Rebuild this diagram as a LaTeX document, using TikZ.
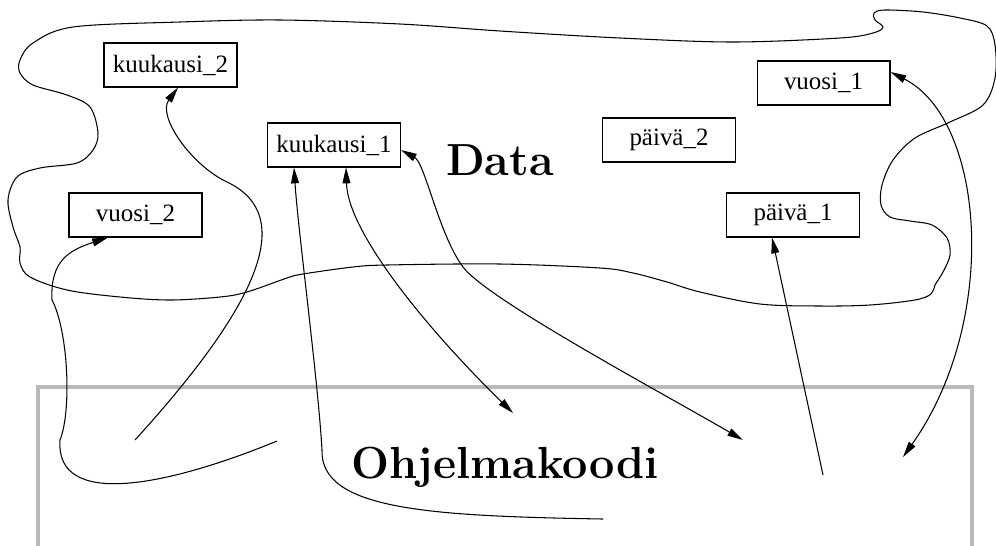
\documentclass[tikz,border=0pt]{standalone}
\usepackage{fontspec}
\usetikzlibrary{arrows.meta}
\newfontfamily\labelfont{Liberation Serif}

\begin{document}
\begin{tikzpicture}[x=0.02cm, y=-0.02cm,
    box/.style = {rectangle,
        draw,
        line width = 0.6pt,
        minimum width = 2.66cm,
        minimum height = 0.88cm,
        inner sep = 0pt,
        font = \labelfont\fontsize{14.2}{16}\selectfont},
    heading/.style = {anchor = base,
        font = \fontsize{25.6}{30}\selectfont\bfseries},
    oneway/.style = {line width = 0.6pt,
        -{Triangle[length = 9pt, width = 4.5pt]}},
    twoway/.style = {line width = 0.6pt,
        {Triangle[length = 9pt, width = 4.5pt]}-{Triangle[length = 9pt, width = 4.5pt]}}]

    \useasboundingbox (0,0) rectangle (996,545);

    % program code area
    \node[rectangle,
        draw = black!27,
        line width = 2pt,
        minimum width = 18.68cm,
        minimum height = 3.24cm] (Koodi) at (505,468) {};
    \node[heading] (Ohjelma) at (505,478) {Ohjelmakoodi};

    % data area
    \draw[line width = 0.6pt] plot[smooth cycle, tension = 0.55] coordinates {
        (73,27) (180,22) (280,20) (400,24) (500,31) (620,38) (733,42)
        (840,38) (873,33) (883,27) (875,20) (874,13) (885,10) (923,12)
        (960,18) (987,26) (995,45) (995,78) (983,105) (950,122) (915,138)
        (893,160) (882,185) (881,205) (890,217) (910,221) (932,225)
        (947,238) (950,255) (943,272) (935,285) (931,294) (915,300)
        (870,305) (820,306) (760,304) (700,292) (667,282) (633,273)
        (600,268) (500,264) (387,265) (353,267) (303,274) (287,278)
        (247,292) (220,297) (170,300) (120,297) (67,290) (30,277)
        (20,263) (20,247) (13,227) (8,200) (17,177) (40,168) (77,163)
        (93,150) (98,133) (90,107) (67,95) (33,85) (20,73) (20,60) (33,43)};
    \node[heading] (Data) at (500,175) {Data};

    \node[box] (kuukausi2) at (170.5,65) {kuukausi\_2};
    \node[box] (kuukausi1) at (334,145) {kuukausi\_1};
    \node[box] (vuosi2) at (135.5,215) {vuosi\_2};
    \node[box] (vuosi1) at (823.5,83) {vuosi\_1};
    \node[box] (paiva2) at (669,140) {päivä\_2};
    \node[box] (paiva1) at (793,215) {päivä\_1};

    % loose ends inside the code
    \coordinate (k2alku) at (135,440);
    \coordinate (v2alku) at (277,441);
    \coordinate (k1alku) at (603,519);
    \coordinate (k1loppu) at (513,413);
    \coordinate (k1oikea) at (743,440);
    \coordinate (p1alku) at (823,475);
    \coordinate (v1loppu) at (903,457);

    \draw[oneway] (k2alku) .. controls (256,307) and (299,216) .. (227,182)
        .. controls (191,165) and (157,116) .. ([xshift=0.15cm]kuukausi2.south);
    \draw[oneway] (v2alku) .. controls (170,485) and (55,510) .. (60,440)
        .. controls (72,410) and (68,330) .. (52,300)
        .. controls (50,260) and (70,250) .. ([xshift=-0.55cm]vuosi2.south);
    \draw[oneway] (k1alku) .. controls (430,516) and (320,510) .. (322,450)
        .. controls (318,380) and (298,230) .. ([xshift=-0.8cm]kuukausi1.south);
    \draw[twoway] ([xshift=0.24cm]kuukausi1.south)
        .. controls (348,235) and (434,336) .. (k1loppu);
    \draw[twoway] ([yshift=-0.1cm]kuukausi1.east)
        .. controls (425,163) and (439,235) .. (463,267)
        .. controls (487,299) and (657,390) .. (k1oikea);
    \draw[oneway] (p1alku) -- ([xshift=-0.42cm]paiva1.south);
    \draw[twoway] ([yshift=0.22cm]vuosi1.east)
        .. controls (985,120) and (1000,320) .. (v1loppu);

\end{tikzpicture}
\end{document}
